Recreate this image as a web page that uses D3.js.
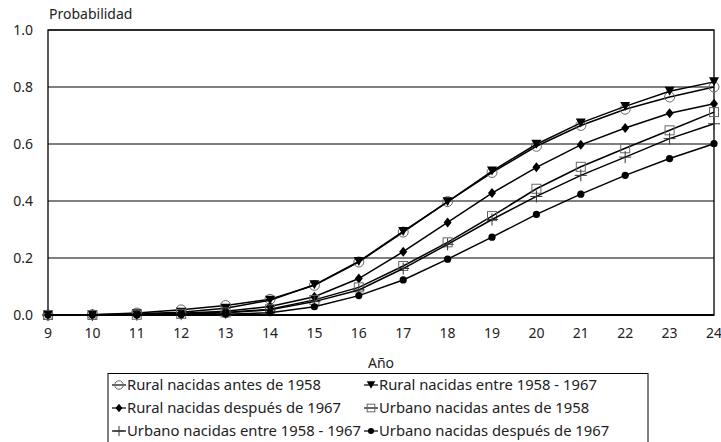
<!DOCTYPE html>
<html><head><meta charset="utf-8">
<script src="https://cdn.jsdelivr.net/npm/d3@7"></script>
<style>
body{margin:0;background:#fff;}
text{font-family:"Noto Sans",sans-serif;fill:#222;}
</style></head>
<body><svg id="c" width="721" height="442"></svg>
<script>
const years = [9,10,11,12,13,14,15,16,17,18,19,20,21,22,23,24];
const yTicks = [0,0.2,0.4,0.6,0.8,1.0];
const ruralAntes    = [0,0.001,0.007,0.018,0.033,0.055,0.104,0.186,0.291,0.398,0.500,0.592,0.665,0.722,0.765,0.800];
const ruralEntre    = [0,0.001,0.004,0.010,0.024,0.052,0.106,0.188,0.293,0.397,0.505,0.599,0.674,0.732,0.785,0.818];
const ruralDespues  = [0,0,0.002,0.006,0.013,0.030,0.064,0.128,0.222,0.325,0.428,0.518,0.597,0.656,0.708,0.741];
const urbanoAntes   = [0,0,0.001,0.004,0.009,0.020,0.053,0.097,0.172,0.255,0.347,0.443,0.520,0.585,0.648,0.712];
const urbanoEntre   = [0,0,0.001,0.003,0.008,0.018,0.047,0.088,0.163,0.248,0.335,0.416,0.490,0.554,0.619,0.671];
const urbanoDespues = [0,0,0,0.001,0.003,0.008,0.029,0.068,0.123,0.196,0.273,0.353,0.424,0.490,0.549,0.601];
const seriesNames = ["Rural nacidas antes de 1958","Rural nacidas entre 1958 - 1967","Rural nacidas después de 1967","Urbano nacidas antes de 1958","Urbano nacidas entre 1958 - 1967","Urbano nacidas después de 1967"];
const seriesMarkers = ["circle","triangle","diamond","square","plus","dot"];
const seriesValues = [ruralAntes,ruralEntre,ruralDespues,urbanoAntes,urbanoEntre,urbanoDespues];

const svg = d3.select("#c");
const L=48,R=714,T=30,B=315;
const x = d3.scaleLinear().domain([9,24]).range([L,R]);
const y = d3.scaleLinear().domain([0,1]).range([B,T]);

// gridlines
svg.append("g").selectAll("line").data(yTicks.filter(d=>d>0)).join("line")
  .attr("x1",L).attr("x2",R).attr("y1",d=>y(d)).attr("y2",d=>y(d))
  .attr("stroke","#000").attr("stroke-width",1);
// frame
svg.append("rect").attr("x",L).attr("y",T).attr("width",R-L).attr("height",B-T)
  .attr("fill","none").attr("stroke","#000").attr("stroke-width",1.3);
svg.append("line").attr("x1",L).attr("x2",R).attr("y1",B).attr("y2",B).attr("stroke","#000").attr("stroke-width",2);

// axes labels
const fs = "14px";
svg.append("g").selectAll("text").data(yTicks).join("text")
  .attr("x",33).attr("y",d=>y(d)+5).attr("text-anchor","end").style("font-size",fs)
  .text(d=>d3.format(".1f")(d));
svg.append("g").selectAll("text").data(years).join("text")
  .attr("x",d=>x(d)).attr("y",338).attr("text-anchor","middle").style("font-size",fs)
  .text(d=>d);
svg.append("text").attr("x",49).attr("y",19).style("font-size",fs).text("Probabilidad");
svg.append("text").attr("x",381).attr("y",368).attr("text-anchor","middle").style("font-size",fs).text("Año");

function marker(g, type, cx, cy, s){
  s = s||1;
  if(type==="circle") g.append("circle").attr("cx",cx).attr("cy",cy).attr("r",5*s).attr("fill","none").attr("stroke","#666").attr("stroke-width",1);
  else if(type==="triangle") g.append("path").attr("d",`M${cx-5*s},${cy-4.5*s}L${cx+5*s},${cy-4.5*s}L${cx},${cy+4.5*s}Z`).attr("fill","#000");
  else if(type==="diamond") g.append("path").attr("d",`M${cx},${cy-5*s}L${cx+4*s},${cy}L${cx},${cy+5*s}L${cx-4*s},${cy}Z`).attr("fill","#000");
  else if(type==="square") g.append("rect").attr("x",cx-4.5*s).attr("y",cy-4.5*s).attr("width",9*s).attr("height",9*s).attr("fill","none").attr("stroke","#666").attr("stroke-width",1);
  else if(type==="plus") g.append("path").attr("d",`M${cx-6*s},${cy}H${cx+6*s}M${cx},${cy-6*s}V${cy+6*s}`).attr("stroke","#333").attr("stroke-width",1);
  else if(type==="dot") g.append("circle").attr("cx",cx).attr("cy",cy).attr("r",3.6*s).attr("fill","#000");
}

const line = d3.line().x((d,i)=>x(years[i])).y(d=>y(d));
seriesValues.forEach((vals,k)=>{
  const g = svg.append("g");
  g.append("path").attr("d",line(vals)).attr("fill","none").attr("stroke","#000").attr("stroke-width",1.5);
  vals.forEach((v,i)=>marker(g, seriesMarkers[k], x(years[i]), y(v)));
});

// legend
const lg = svg.append("g");
lg.append("rect").attr("x",108).attr("y",373.5).attr("width",540).attr("height",80).attr("fill","#fff").attr("stroke","#000").attr("stroke-width",1);
const colX=[112,364], rowY=[385,408,431];
seriesNames.forEach((name,k)=>{
  const cx = colX[k%2], cy = rowY[Math.floor(k/2)];
  lg.append("line").attr("x1",cx).attr("x2",cx+14).attr("y1",cy).attr("y2",cy).attr("stroke","#000").attr("stroke-width",1.2);
  marker(lg, seriesMarkers[k], cx+7, cy, 0.85);
  lg.append("text").attr("x",cx+15).attr("y",cy+5).style("font-size","14.8px").text(name);
});
</script></body></html>
